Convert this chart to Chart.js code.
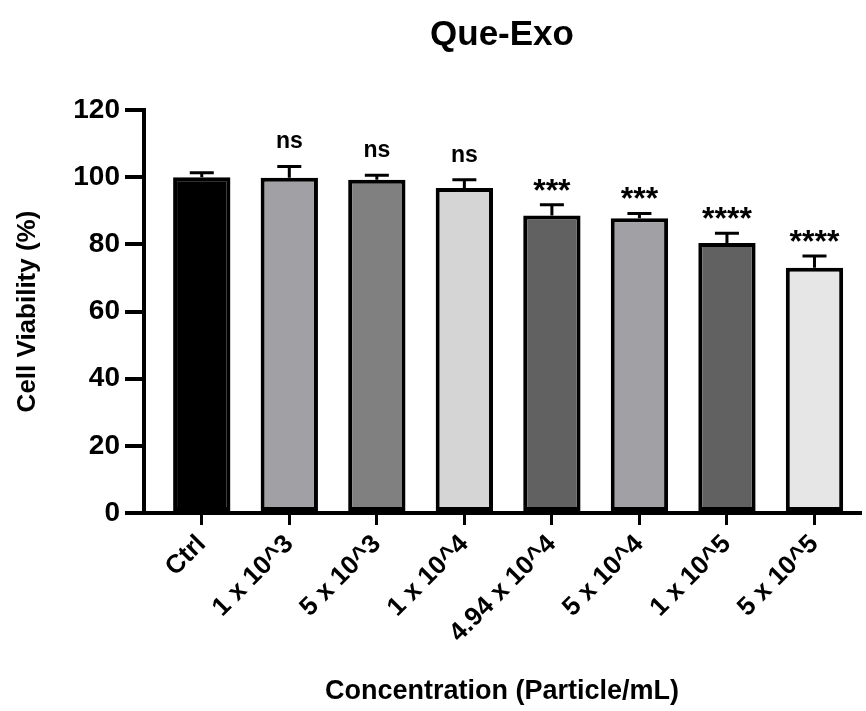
<!DOCTYPE html>
<html>
<head>
<meta charset="utf-8">
<script src="https://cdn.jsdelivr.net/npm/chart.js@4.4.1/dist/chart.umd.min.js"></script>
<style>
  html, body { margin: 0; padding: 0; background: #fff; }
  #wrap { width: 866px; height: 711px; }
</style>
</head>
<body>
<div id="wrap"><canvas id="chart" width="866" height="711"></canvas></div>
<script>
"use strict";

const categories = ['Ctrl', '1 x 10^3', '5 x 10^3', '1 x 10^4', '4.94 x 10^4', '5 x 10^4', '1 x 10^5', '5 x 10^5'];
const viability = [100, 99.8, 99.2, 96.8, 88.6, 87.8, 80.4, 73.0];
const errorUp = [1.3, 3.4, 1.4, 2.4, 3.2, 1.4, 2.9, 3.5];
const significance = ['', 'ns', 'ns', 'ns', '***', '***', '****', '****'];
const barColors = ['#000000', '#a1a1a5', '#808080', '#d5d5d5', '#616161', '#a1a1a5', '#616161', '#e6e6e6'];
const yTicks = [0, 20, 40, 60, 80, 100, 120];

const FONT = '"Liberation Sans", Arial, Helvetica, sans-serif';

const errorBars = {
    id: 'errorBars',
    beforeDatasetsDraw(chart) {
        const ctx = chart.ctx;
        const y = chart.scales.y;
        const meta = chart.getDatasetMeta(0);
        ctx.save();
        ctx.strokeStyle = '#000';
        ctx.lineWidth = 3;
        meta.data.forEach((bar, i) => {
            const top = y.getPixelForValue(viability[i] + errorUp[i]);
            const base = y.getPixelForValue(viability[i]);
            ctx.beginPath();
            ctx.moveTo(bar.x, base);
            ctx.lineTo(bar.x, top);
            ctx.moveTo(bar.x - 12, top);
            ctx.lineTo(bar.x + 12, top);
            ctx.stroke();
        });
        ctx.restore();
    },
    afterDatasetsDraw(chart) {
        const ctx = chart.ctx;
        const y = chart.scales.y;
        const meta = chart.getDatasetMeta(0);
        ctx.save();
        ctx.fillStyle = '#000';
        ctx.textAlign = 'center';
        ctx.textBaseline = 'alphabetic';
        meta.data.forEach((bar, i) => {
            const label = significance[i];
            if (!label) return;
            const top = y.getPixelForValue(viability[i] + errorUp[i]);
            if (label === 'ns') {
                ctx.font = 'bold 23px ' + FONT;
                ctx.fillText(label, bar.x, top - 18);
            } else {
                // asterisks sit high in the glyph box
                ctx.font = 'bold 32px ' + FONT;
                ctx.fillText(label, bar.x, top - 4);
            }
        });
        ctx.restore();
    }
};

const ctx = document.getElementById('chart').getContext('2d');
const chart = new Chart(ctx, {
    type: 'bar',
    data: {
        datasets: [{
            data: viability.map((v, i) => ({ x: i, y: v })),
            backgroundColor: barColors,
            borderColor: '#000',
            borderWidth: 4,
            borderSkipped: false,
            barPercentage: 0.655,
            categoryPercentage: 1
        }]
    },
    options: {
        responsive: false,
        animation: false,
        layout: { padding: { left: 0, right: 6, top: 0, bottom: 0 } },
        scales: {
            x: {
                type: 'linear',
                min: -0.66,
                max: 7.52,
                offset: false,
                afterBuildTicks: scale => {
                    scale.ticks = categories.map((c, i) => ({ value: i }));
                },
                afterFit: scale => { scale.height = 198; },
                ticks: {
                    autoSkip: false,
                    maxRotation: 45,
                    minRotation: 45,
                    padding: 4,
                    color: '#000',
                    font: { family: FONT, size: 26, weight: 'bold' },
                    callback: v => categories[v]
                },
                grid: {
                    display: true,
                    offset: false,
                    drawOnChartArea: false,
                    drawTicks: true,
                    tickLength: 12,
                    lineWidth: 3,
                    color: '#000'
                },
                border: { display: true, color: '#000', width: 4 },
                title: {
                    display: true,
                    text: 'Concentration (Particle/mL)',
                    color: '#000',
                    font: { family: FONT, size: 27, weight: 'bold' },
                    padding: { top: 0, bottom: 3 }
                }
            },
            top: {
                type: 'linear',
                position: 'top',
                offset: false,
                afterFit: scale => { scale.height = 110; },
                ticks: { display: false },
                grid: { display: false },
                border: { display: false },
                title: {
                    display: true,
                    text: 'Que-Exo',
                    color: '#000',
                    font: { family: FONT, size: 35, weight: 'bold' },
                    padding: { top: 14, bottom: 0 }
                }
            },
            y: {
                min: 0,
                max: 120,
                afterBuildTicks: scale => {
                    scale.ticks = yTicks.map(v => ({ value: v }));
                },
                afterFit: scale => { scale.width = 144; },
                ticks: {
                    padding: 5,
                    color: '#000',
                    font: { family: FONT, size: 28, weight: 'bold' }
                },
                grid: {
                    display: true,
                    drawOnChartArea: false,
                    drawTicks: true,
                    tickLength: 19,
                    lineWidth: 4,
                    color: '#000'
                },
                border: { display: true, color: '#000', width: 4 },
                title: {
                    display: true,
                    text: 'Cell Viability (%)',
                    color: '#000',
                    font: { family: FONT, size: 26, weight: 'bold' },
                    padding: { top: 12, bottom: 0 }
                }
            }
        },
        plugins: {
            legend: { display: false },
            tooltip: { enabled: false },
            title: { display: false }
        }
    },
    plugins: [errorBars]
});
</script>
</body>
</html>
